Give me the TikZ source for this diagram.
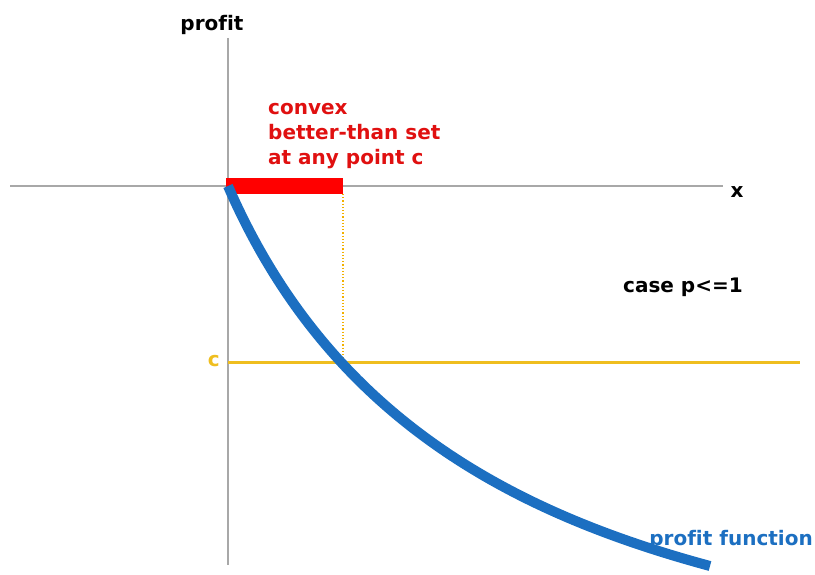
\documentclass[tikz,border=0pt]{standalone}
\usepackage{fontspec}
\setmainfont[Ligatures=NoCommon]{DejaVu Sans}
\begin{document}
\definecolor{axisgray}{HTML}{A8A8A8}
\definecolor{curveblue}{HTML}{1C6FC1}
\definecolor{setred}{HTML}{FF0000}
\definecolor{textred}{HTML}{E01010}
\definecolor{levelgold}{HTML}{EFBE1F}
\definecolor{dotgold}{HTML}{F2B000}
\begin{tikzpicture}[x=1pt,y=-1pt,
  axis/.style={draw=axisgray,line width=1.5pt},
  lbl/.style={inner sep=0pt,font=\fontsize{20}{25}\selectfont\bfseries},
]
\useasboundingbox (0,0) rectangle (815,575);
% axes
\coordinate (ytop) at (228,38);
\coordinate (ybot) at (228,565);
\coordinate (xleft) at (10,186);
\coordinate (xright) at (723,186);
\draw[axis] (ytop) -- (ybot);
\draw[axis] (xleft) -- (xright);
\node[lbl,anchor=base] (ylab) at (212,31) {profit};
\node[lbl,anchor=base] (xlab) at (737,198) {x};
% level c and the better-than set
\coordinate (cleft) at (228,362);
\coordinate (cright) at (800,362);
\coordinate (cross) at (343,362);
\coordinate (setend) at (343,194);
\draw[draw=levelgold,line width=3pt] (cleft) -- (cright);
\draw[draw=dotgold,line width=1.2pt,dotted] (setend) -- (cross);
\fill[setred] (226,178) rectangle (343,194);
\node[lbl,anchor=base east,text=levelgold] (clab) at (220,366) {c};
% profit function
\coordinate (fstart) at (228,186);
\coordinate (fend) at (710,566);
\draw[curveblue,line width=10pt] (fstart) .. controls (328,416) and (510,512) .. (fend);
% labels
\node[lbl,anchor=base west,text=textred,align=left] (setlab) at (268,165)
  {convex\\better-than set\\at any point c};
\node[lbl,anchor=base west] (caselab) at (623,293) {case p<=1};
\node[lbl,anchor=base east,text=curveblue] (funlab) at (813,545) {profit function};
\end{tikzpicture}
\end{document}
